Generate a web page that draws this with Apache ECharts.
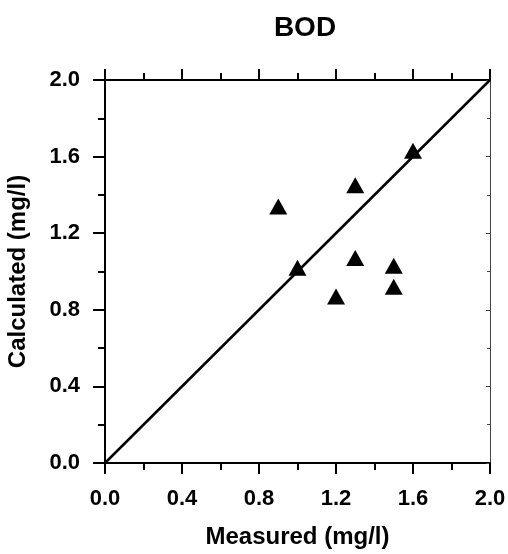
<!DOCTYPE html>
<html>
<head>
<meta charset="utf-8">
<script src="https://cdn.jsdelivr.net/npm/echarts@6/dist/echarts.min.js"></script>
<style>
  html, body { margin: 0; padding: 0; background: #fff; }
  #chart { width: 508px; height: 554px; }
</style>
</head>
<body>
<div id="chart"></div>
<script>
// measured vs calculated BOD (mg/l)
const measured = [0.90, 1.30, 1.60, 1.00, 1.30, 1.50, 1.50, 1.20];
const calculated = [1.34, 1.45, 1.63, 1.02, 1.07, 1.03, 0.92, 0.87];
const lineX = [0.0, 2.0];
const lineY = [0.0, 2.0];

const points = measured.map((m, i) => [m, calculated[i]]);
const linePts = lineX.map((x, i) => [x, lineY[i]]);

const font = 'Liberation Sans, Arial, sans-serif';

const chart = echarts.init(document.getElementById('chart'));
chart.setOption({
    backgroundColor: '#fff',
    animation: false,
    title: {
        text: 'BOD',
        left: 300,
        top: 9,
        textAlign: 'center',
        textStyle: { fontFamily: font, fontSize: 28, fontWeight: 'bold', color: '#000' }
    },
    grid: { left: 105, right: 18, top: 80, bottom: 91, containLabel: false, outerBoundsMode: 'none' },
    xAxis: [
        {
            type: 'value', position: 'bottom', min: 0, max: 2, interval: 0.4,
            name: 'Measured (mg/l)', nameLocation: 'middle', nameGap: 62, nameMoveOverlap: false,
            nameTextStyle: { fontFamily: font, fontSize: 24, fontWeight: 'bold', color: '#000' },
            axisLine: { onZero: false, lineStyle: { color: '#000', width: 2 } },
            axisTick: { inside: false, length: 11, lineStyle: { color: '#000', width: 2 } },
            minorTick: { show: true, splitNumber: 2, length: 7, lineStyle: { color: '#000', width: 2 } },
            axisLabel: { margin: 25, fontFamily: font, fontSize: 22, fontWeight: 'bold', color: '#000',
                formatter: v => v.toFixed(1) },
            splitLine: { show: false }
        },
        {
            type: 'value', position: 'top', min: 0, max: 2, interval: 0.4,
            axisLine: { onZero: false, lineStyle: { color: '#000', width: 2 } },
            axisTick: { inside: false, length: 11, lineStyle: { color: '#000', width: 2 } },
            minorTick: { show: true, splitNumber: 2, length: 7, lineStyle: { color: '#000', width: 2 } },
            axisLabel: { show: false },
            splitLine: { show: false }
        }
    ],
    yAxis: [
        {
            type: 'value', position: 'left', min: 0, max: 2, interval: 0.4,
            name: 'Calculated (mg/l)', nameLocation: 'middle', nameGap: 75, nameRotate: 90, nameMoveOverlap: false,
            nameTextStyle: { fontFamily: font, fontSize: 24, fontWeight: 'bold', color: '#000' },
            axisLine: { onZero: false, lineStyle: { color: '#000', width: 2 } },
            axisTick: { inside: false, length: 12, lineStyle: { color: '#000', width: 2 } },
            minorTick: { show: true, splitNumber: 2, length: 7, lineStyle: { color: '#000', width: 2 } },
            axisLabel: { margin: 25, fontFamily: font, fontSize: 22, fontWeight: 'bold', color: '#000',
                formatter: v => v.toFixed(1) },
            splitLine: { show: false }
        },
        {
            type: 'value', position: 'right', min: 0, max: 2, interval: 0.4,
            axisLine: { onZero: false, lineStyle: { color: '#444', width: 1 } },
            axisTick: { inside: true, length: 4, lineStyle: { color: '#444', width: 1 } },
            minorTick: { show: true, splitNumber: 2, length: 3, lineStyle: { color: '#444', width: 1 } },
            axisLabel: { show: false },
            splitLine: { show: false }
        }
    ],
    series: [
        {
            type: 'line',
            data: linePts,
            showSymbol: false,
            lineStyle: { color: '#000', width: 2.5 },
            silent: true
        },
        {
            type: 'scatter',
            data: points,
            symbol: 'triangle',
            symbolSize: [18, 16],
            itemStyle: { color: '#000', opacity: 1 }
        }
    ]
});
</script>
</body>
</html>
